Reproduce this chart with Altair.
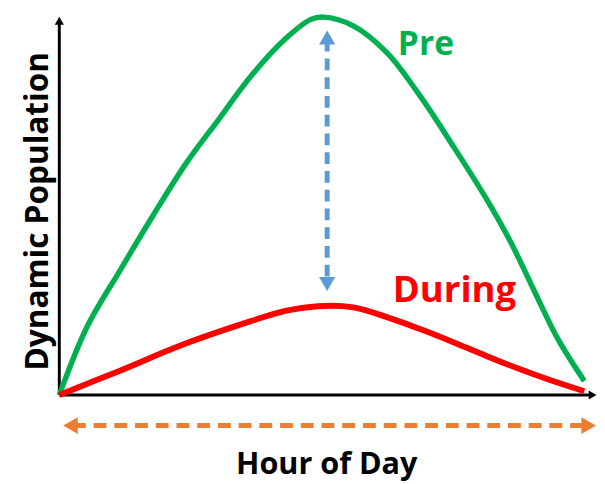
import altair as alt
import pandas as pd

# Curves (hour of day, dynamic population index)
pre_hours = [0, 1.26, 2.79, 4.27, 5.75, 7.28, 8.76, 10.25, 11.46, 12.04, 13.39, 14.92, 16.40, 17.89, 19.42, 20.58, 21.66, 22.70, 23.91]
pre_pop = [0, 18.0, 33.2, 47.5, 61.1, 73.1, 84.6, 94.0, 99.4, 100, 97.7, 90.6, 79.4, 66.3, 52.2, 40.2, 27.2, 14.9, 3.7]
during_hours = [0, 2.79, 5.75, 8.76, 10.25, 11.78, 13.39, 14.92, 16.40, 17.89, 19.42, 20.90, 22.38, 23.91]
during_pop = [0, 6.5, 13.6, 19.6, 22.2, 23.5, 23.2, 20.6, 17.5, 14.1, 10.4, 7.0, 3.9, 1.0]

# Annotation geometry in data units
axis_x_end = 24.45
axis_y_end = 100
blue_x = 12.2
blue_y = [94.0, 30.0]
orange_y = -8.1
orange_x = [0.62, 24.0]

labels = ["Pre", "During"]
label_x = [15.42, 15.19]
label_y = [90.1, 24.5]
label_colors = ["#00B050", "#FF0000"]
label_sizes = [34, 37]

GREEN = "#00B050"
RED = "#FF0000"
BLUE = "#5B9BD5"
ORANGE = "#ED7D31"
FONT = "Open Sans"

xs = alt.Scale(domain=[0, 24.49], nice=False, zero=False)
ys = alt.Scale(domain=[0, 100], nice=False, zero=False)
X = lambda f: alt.X(f, type="quantitative", scale=xs, axis=None)
Y = lambda f: alt.Y(f, type="quantitative", scale=ys, axis=None)

pre_df = pd.DataFrame({"h": pre_hours, "p": pre_pop})
dur_df = pd.DataFrame({"h": during_hours, "p": during_pop})

pre_line = alt.Chart(pre_df).mark_line(color=GREEN, strokeWidth=5.5, interpolate="catmull-rom", strokeCap="butt").encode(x=X("h"), y=Y("p"))
dur_line = alt.Chart(dur_df).mark_line(color=RED, strokeWidth=6, interpolate="catmull-rom", strokeCap="butt").encode(x=X("h"), y=Y("p"))

# axes
axes_df = pd.DataFrame({"x1": [0, 0], "x2": [0, axis_x_end - 0.2], "y1": [0, 0], "y2": [axis_y_end - 1.5, 0]})
axes_rules = alt.Chart(axes_df).mark_rule(color="black", strokeWidth=3).encode(
    x=X("x1"), x2="x2", y=Y("y1"), y2="y2")
axis_heads_df = pd.DataFrame({"x": [0, axis_x_end - 0.22], "y": [axis_y_end - 1.3, 0], "a": [0, 90]})
axis_heads = alt.Chart(axis_heads_df).mark_point(shape="triangle", filled=True, color="black", opacity=1, size=85).encode(
    x=X("x"), y=Y("y"), angle=alt.Angle("a:Q", scale=None))

# blue double arrow
blue_df = pd.DataFrame({"x": [blue_x], "y1": [blue_y[0]], "y2": [blue_y[1]]})
blue_rule = alt.Chart(blue_df).mark_rule(color=BLUE, strokeWidth=5, strokeDash=[12, 7]).encode(
    x=X("x"), y=Y("y1"), y2="y2")
blue_heads_df = pd.DataFrame({"x": [blue_x, blue_x], "y": blue_y, "a": [0, 180]})
blue_heads = alt.Chart(blue_heads_df).mark_point(shape="triangle", filled=True, color=BLUE, opacity=1, size=270).encode(
    x=X("x"), y=Y("y"), angle=alt.Angle("a:Q", scale=None))

# orange double arrow
orange_df = pd.DataFrame({"x1": [orange_x[0]], "x2": [orange_x[1]], "y": [orange_y]})
orange_rule = alt.Chart(orange_df).mark_rule(color=ORANGE, strokeWidth=5, strokeDash=[13, 8]).encode(
    x=X("x1"), x2="x2", y=Y("y"))
orange_heads_df = pd.DataFrame({"x": orange_x, "y": [orange_y, orange_y], "a": [270, 90]})
orange_heads = alt.Chart(orange_heads_df).mark_point(shape="triangle", filled=True, color=ORANGE, opacity=1, size=290).encode(
    x=X("x"), y=Y("y"), angle=alt.Angle("a:Q", scale=None))

# series labels
lab_df = pd.DataFrame({"t": labels, "x": label_x, "y": label_y, "c": label_colors, "s": label_sizes})
lab = alt.Chart(lab_df).mark_text(align="left", baseline="alphabetic", font=FONT, fontWeight="bold").encode(
    x=X("x"), y=Y("y"), text="t:N", color=alt.Color("c:N", scale=None), size=alt.Size("s:Q", scale=None))

# axis titles
xt_df = pd.DataFrame({"t": ["Hour of Day"], "x": [12.18], "y": [-20.9]})
xt = alt.Chart(xt_df).mark_text(align="center", baseline="alphabetic", font=FONT, fontWeight="bold", fontSize=31, color="black").encode(
    x=X("x"), y=Y("y"), text="t:N")
yt_df = pd.DataFrame({"t": ["Dynamic Population"], "x": [-0.5], "y": [48.6]})
yt = alt.Chart(yt_df).mark_text(align="center", baseline="alphabetic", angle=270, font=FONT, fontWeight="bold", fontSize=32, color="black").encode(
    x=X("x"), y=Y("y"), text="t:N")

chart = alt.layer(
    axes_rules, axis_heads, pre_line, dur_line, blue_rule, blue_heads, orange_rule, orange_heads, lab, xt, yt
).properties(
    width=545, height=383,
    autosize=alt.AutoSizeParams(type="none"),
    padding={"left": 52, "top": 6, "right": 0, "bottom": 87},
    background="white",
).configure_view(stroke=None)

chart.save("out.html", embed_options={"renderer": "svg", "actions": False})
